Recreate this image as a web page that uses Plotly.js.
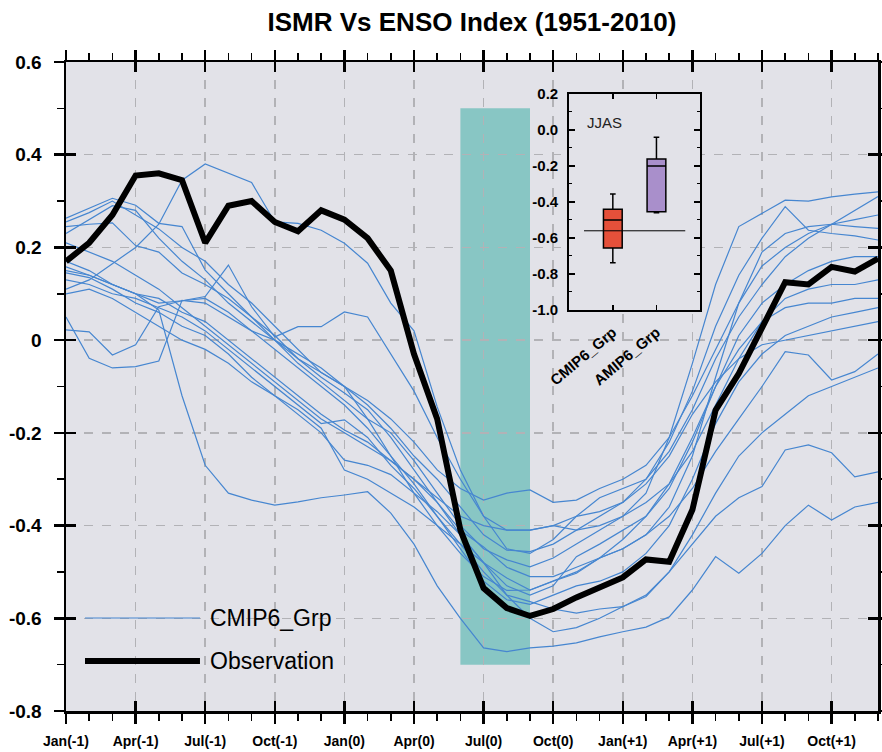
<!DOCTYPE html>
<html>
<head>
<meta charset="utf-8">
<script src="https://cdn.plot.ly/plotly-3.0.1.min.js"></script>
<style>html,body{margin:0;padding:0;background:#fff;}</style>
</head>
<body>
<div id="chart" style="width:882px;height:752px;"></div>
<script>
// ---------------- data ----------------
const monthIndex = [0,1,2,3,4,5,6,7,8,9,10,11,12,13,14,15,16,17,18,19,20,21,22,23,24,25,26,27,28,29,30,31,32,33,34,35];
const xTickVals = [0,3,6,9,12,15,18,21,24,27,30,33];
const xTickText = ['Jan(-1)','Apr(-1)','Jul(-1)','Oct(-1)','Jan(0)','Apr(0)','Jul(0)','Oct(0)','Jan(+1)','Apr(+1)','Jul(+1)','Oct(+1)'];
const yTickVals = [-0.8,-0.6,-0.4,-0.2,0,0.2,0.4,0.6];
const yTickText = ['-0.8','-0.6','-0.4','-0.2','0','0.2','0.4','0.6'];

const observation = [0.17,0.21,0.27,0.355,0.36,0.345,0.21,0.29,0.30,0.255,0.235,0.28,0.26,0.22,0.15,-0.03,-0.17,-0.41,-0.535,-0.578,-0.595,-0.58,-0.555,-0.532,-0.512,-0.473,-0.478,-0.366,-0.151,-0.072,0.03,0.125,0.12,0.158,0.148,0.176];

const cmip01 = [0.11,0.13,0.165,0.20,0.25,0.345,0.38,0.36,0.34,0.255,0.252,0.237,0.209,0.166,0.08,0.02,-0.144,-0.28,-0.38,-0.45,-0.46,-0.43,-0.38,-0.34,-0.32,-0.30,-0.24,-0.15,-0.04,0.05,0.12,0.18,0.22,0.25,0.28,0.31];
const cmip02 = [0.15,0.14,0.12,0.10,0.065,-0.12,-0.27,-0.33,-0.345,-0.356,-0.349,-0.34,-0.334,-0.327,-0.373,-0.44,-0.53,-0.60,-0.664,-0.672,-0.664,-0.66,-0.653,-0.64,-0.629,-0.619,-0.597,-0.539,-0.467,-0.503,-0.46,-0.40,-0.356,-0.388,-0.36,-0.35];
const cmip03 = [0.022,0.018,-0.032,-0.01,0.072,0.085,0.09,0.06,0.02,-0.02,-0.06,-0.10,-0.14,-0.19,-0.25,-0.31,-0.38,-0.45,-0.52,-0.56,-0.57,-0.55,-0.53,-0.52,-0.50,-0.46,-0.40,-0.30,-0.18,-0.09,-0.03,0.01,0.03,0.05,0.06,0.07];
const cmip04 = [0.05,-0.039,-0.06,-0.057,-0.045,0.086,0.08,0.05,0.02,0.0,-0.03,-0.06,-0.10,-0.17,-0.25,-0.33,-0.40,-0.46,-0.51,-0.54,-0.539,-0.52,-0.50,-0.47,-0.43,-0.38,-0.31,-0.21,-0.10,-0.02,0.04,0.07,0.08,0.08,0.09,0.09];
const cmip05 = [0.17,0.15,0.12,0.10,0.08,0.085,0.094,0.162,0.072,0.007,0.029,0.029,0.061,0.05,-0.03,-0.11,-0.21,-0.30,-0.38,-0.41,-0.41,-0.40,-0.38,-0.37,-0.35,-0.31,-0.25,-0.16,-0.09,-0.04,-0.01,0.0,0.01,0.02,0.03,0.04];
const cmip06 = [0.263,0.285,0.306,0.291,0.252,0.245,0.151,0.10,0.05,0.0,-0.05,-0.09,-0.13,-0.17,-0.20,-0.26,-0.33,-0.40,-0.45,-0.474,-0.489,-0.47,-0.44,-0.41,-0.38,-0.33,-0.21,-0.05,0.12,0.245,0.273,0.302,0.30,0.309,0.315,0.32];
const cmip07 = [0.255,0.275,0.30,0.27,0.24,0.20,0.17,0.12,0.08,0.03,-0.02,-0.07,-0.10,-0.14,-0.19,-0.25,-0.30,-0.36,-0.42,-0.453,-0.456,-0.44,-0.41,-0.38,-0.35,-0.30,-0.22,-0.11,0.03,0.14,0.22,0.288,0.237,0.23,0.225,0.216];
const cmip08 = [0.245,0.25,0.253,0.204,0.19,0.145,0.12,0.09,0.05,0.01,-0.04,-0.08,-0.114,-0.15,-0.21,-0.28,-0.35,-0.42,-0.48,-0.513,-0.539,-0.52,-0.503,-0.47,-0.45,-0.42,-0.36,-0.25,-0.08,0.08,0.19,0.23,0.245,0.25,0.245,0.241];
const cmip09 = [0.158,0.14,0.12,0.10,0.09,0.06,0.04,0.0,-0.04,-0.08,-0.12,-0.16,-0.194,-0.22,-0.26,-0.30,-0.35,-0.41,-0.446,-0.49,-0.51,-0.51,-0.49,-0.47,-0.45,-0.42,-0.38,-0.32,-0.24,-0.17,-0.10,-0.025,-0.032,-0.086,-0.068,-0.03];
const cmip10 = [0.145,0.135,0.11,0.08,0.06,0.03,0.01,-0.03,-0.08,-0.12,-0.16,-0.20,-0.259,-0.27,-0.29,-0.33,-0.37,-0.42,-0.48,-0.55,-0.564,-0.58,-0.589,-0.58,-0.575,-0.553,-0.50,-0.42,-0.33,-0.25,-0.20,-0.16,-0.12,-0.10,-0.08,-0.06];
const cmip11 = [0.13,0.12,0.10,0.09,0.07,0.05,0.02,-0.02,-0.06,-0.10,-0.14,-0.18,-0.172,-0.21,-0.27,-0.32,-0.38,-0.44,-0.50,-0.55,-0.60,-0.629,-0.62,-0.60,-0.575,-0.55,-0.50,-0.44,-0.38,-0.34,-0.316,-0.237,-0.226,-0.243,-0.295,-0.284];
const cmip12 = [0.21,0.19,0.17,0.14,0.11,0.07,0.03,-0.01,-0.05,-0.09,-0.13,-0.17,-0.20,-0.23,-0.26,-0.30,-0.34,-0.38,-0.40,-0.41,-0.41,-0.40,-0.41,-0.40,-0.38,-0.35,-0.31,-0.24,-0.14,-0.04,0.04,0.09,0.11,0.12,0.12,0.13];
const cmip13 = [0.10,0.11,0.09,0.06,0.03,0.0,-0.02,-0.05,-0.09,-0.12,-0.15,-0.19,-0.28,-0.30,-0.33,-0.36,-0.40,-0.44,-0.48,-0.53,-0.55,-0.53,-0.467,-0.44,-0.41,-0.38,-0.32,-0.22,-0.10,0.01,0.08,0.12,0.15,0.17,0.18,0.18];
const cmip14 = [0.23,0.26,0.29,0.28,0.22,0.17,0.13,0.08,0.04,0.0,-0.04,-0.07,-0.10,-0.13,-0.17,-0.22,-0.28,-0.32,-0.345,-0.33,-0.323,-0.35,-0.345,-0.32,-0.30,-0.27,-0.21,-0.12,-0.02,0.08,0.16,0.20,0.23,0.25,0.26,0.27];
const cmipSeries = [cmip01,cmip02,cmip03,cmip04,cmip05,cmip06,cmip07,cmip08,cmip09,cmip10,cmip11,cmip12,cmip13,cmip14];

// JJAS highlight (Jun(0) .. Sep(0))
const jjasStart = 17, jjasEnd = 20, jjasLow = -0.7, jjasHigh = 0.5;

// inset box plot (JJAS correlation)
const boxGroups = ['CMIP6_Grp','AMIP6_Grp'];
const boxPos = [1,2];
const boxLowerFence = [-0.737,-0.46];
const boxQ1 = [-0.655,-0.454];
const boxMedian = [-0.50,-0.20];
const boxQ3 = [-0.44,-0.161];
const boxUpperFence = [-0.356,-0.04];
const boxColors = ['#e5503a','#a98fcb'];
const obsJJAS = -0.56;
const insetYTickVals = [-1.0,-0.8,-0.6,-0.4,-0.2,0.0,0.2];
const insetYTickText = ['-1.0','-0.8','-0.6','-0.4','-0.2','0.0','0.2'];

// ---------------- traces ----------------
const FONT = 'Liberation Sans, Arial, Helvetica, sans-serif';
const blue = 'rgb(70,134,208)';
const traces = [];
cmipSeries.forEach(s => traces.push({
  type:'scatter', mode:'lines', x:monthIndex, y:s, xaxis:'x', yaxis:'y',
  line:{color:blue, width:1.2}, hoverinfo:'skip', showlegend:false
}));
traces.push({
  type:'scatter', mode:'lines', x:monthIndex, y:observation, xaxis:'x', yaxis:'y',
  line:{color:'#000', width:6}, hoverinfo:'skip', showlegend:false
});
// overlay axes (inward major ticks)
traces.push({type:'scatter', mode:'lines', x:[], y:[], xaxis:'x2', yaxis:'y2', showlegend:false, hoverinfo:'skip'});
// inset boxes
boxGroups.forEach((g,i) => traces.push({
  type:'box', xaxis:'x3', yaxis:'y3', name:g,
  x:[boxPos[i]], q1:[boxQ1[i]], median:[boxMedian[i]], q3:[boxQ3[i]],
  lowerfence:[boxLowerFence[i]], upperfence:[boxUpperFence[i]],
  width:0.43, whiskerwidth:0.3, fillcolor:boxColors[i],
  line:{color:'#000', width:1.5}, boxpoints:false, hoverinfo:'skip', showlegend:false
}));
traces.push({
  type:'scatter', mode:'lines', xaxis:'x3', yaxis:'y3',
  x:[boxPos[0]-0.66, boxPos[1]+0.66], y:[obsJJAS, obsJJAS],
  line:{color:'#000', width:1}, hoverinfo:'skip', showlegend:false
});

// ---------------- layout ----------------
const tickFontX = {family:FONT, size:14, color:'#000', weight:'bold'};
const tickFontY = {family:FONT, size:19, color:'#000', weight:'bold'};
const layout = {
  width:882, height:752,
  margin:{l:66, r:4, t:62, b:41, pad:0},
  paper_bgcolor:'#ffffff', plot_bgcolor:'#e2e2e8',
  showlegend:false,
  title:{text:'ISMR Vs ENSO Index (1951-2010)', x:0.5, xref:'paper', xanchor:'center',
         y:1-22/752, yref:'container', yanchor:'middle',
         font:{family:FONT, size:26, color:'#000', weight:'bold'}},
  xaxis:{range:[0,35], tickmode:'array', tickvals:xTickVals, ticktext:xTickText,
    ticks:'outside', ticklen:10, tickwidth:2.5, tickcolor:'#000',
    showline:true, linewidth:2.5, linecolor:'#000', mirror:'ticks',
    showgrid:true, gridcolor:'#b2b2b6', gridwidth:1.5, griddash:'dash', zeroline:false,
    minor:{tickmode:'linear', tick0:0, dtick:1, ticks:'outside', ticklen:7, tickwidth:1.5, tickcolor:'#000', showgrid:false},
    tickfont:tickFontX, ticklabelstandoff:6, fixedrange:true},
  yaxis:{range:[-0.8,0.6], tickmode:'array', tickvals:yTickVals, ticktext:yTickText,
    ticks:'outside', ticklen:10, tickwidth:2.5, tickcolor:'#000',
    showline:true, linewidth:2.5, linecolor:'#000', mirror:'ticks',
    showgrid:true, gridcolor:'#b2b2b6', gridwidth:1.5, griddash:'dash', zeroline:false,
    minor:{tickmode:'linear', tick0:0, dtick:0.1, ticks:'outside', ticklen:7, tickwidth:1.5, tickcolor:'#000', showgrid:false},
    tickfont:tickFontY, ticklabelstandoff:8, fixedrange:true},
  xaxis2:{overlaying:'x', anchor:'y2', range:[0,35], tickmode:'array', tickvals:xTickVals,
    ticks:'inside', ticklen:10, tickwidth:2.5, tickcolor:'#000', showticklabels:false,
    showline:true, linewidth:2.5, linecolor:'#000', mirror:'ticks', showgrid:false, zeroline:false, fixedrange:true},
  yaxis2:{overlaying:'y', anchor:'x2', range:[-0.8,0.6], tickmode:'array', tickvals:yTickVals,
    ticks:'inside', ticklen:10, tickwidth:2.5, tickcolor:'#000', showticklabels:false,
    showline:true, linewidth:2.5, linecolor:'#000', mirror:'ticks', showgrid:false, zeroline:false, fixedrange:true},
  xaxis3:{domain:[0.6197,0.7809], anchor:'y3', range:[0,3], tickmode:'array', tickvals:boxPos, ticktext:boxGroups,
    ticks:'inside', ticklen:5, tickwidth:1.5, tickcolor:'#000', tickangle:-40,
    showline:true, linewidth:2, linecolor:'#000', mirror:'ticks', showgrid:false, zeroline:false,
    tickfont:{family:FONT, size:15, color:'#000', weight:'bold'}, ticklabelstandoff:6, fixedrange:true},
  yaxis3:{domain:[0.6179,0.9507], anchor:'x3', range:[-1.0,0.2], tickmode:'array', tickvals:insetYTickVals, ticktext:insetYTickText,
    ticks:'inside', ticklen:6, tickwidth:1.5, tickcolor:'#000',
    showline:true, linewidth:2, linecolor:'#000', mirror:'ticks',
    showgrid:false, zeroline:false,
    minor:{tickmode:'linear', tick0:0, dtick:0.1, ticks:'inside', ticklen:3, tickwidth:1, tickcolor:'#000', showgrid:false},
    tickfont:{family:FONT, size:15, color:'#000', weight:'bold'}, ticklabelstandoff:6, fixedrange:true},
  shapes:[
    {type:'rect', xref:'x', yref:'y', x0:jjasStart, x1:jjasEnd, y0:jjasLow, y1:jjasHigh,
     fillcolor:'rgb(136,198,196)', line:{width:0}, layer:'below'},
    {type:'line', xref:'paper', yref:'paper', x0:0.0234, x1:0.165, y0:0.1433, y1:0.1433,
     line:{color:blue, width:1.2}},
    {type:'line', xref:'paper', yref:'paper', x0:0.0234, x1:0.165, y0:0.077, y1:0.077,
     line:{color:'#000', width:6}}
  ],
  annotations:[
    {text:'CMIP6_Grp', xref:'paper', yref:'paper', x:0.175, y:0.1433, xanchor:'left', yanchor:'middle', showarrow:false,
     font:{family:FONT, size:23, color:'#000'}},
    {text:'Observation', xref:'paper', yref:'paper', x:0.175, y:0.077, xanchor:'left', yanchor:'middle', showarrow:false,
     font:{family:FONT, size:23, color:'#000'}},
    {text:'JJAS', xref:'x3 domain', yref:'y3 domain', x:0.27, y:0.87, xanchor:'center', yanchor:'middle', showarrow:false,
     font:{family:FONT, size:15, color:'#222'}}
  ]
};

Plotly.newPlot('chart', traces, layout, {staticPlot:true, displayModeBar:false});
</script>
</body>
</html>
